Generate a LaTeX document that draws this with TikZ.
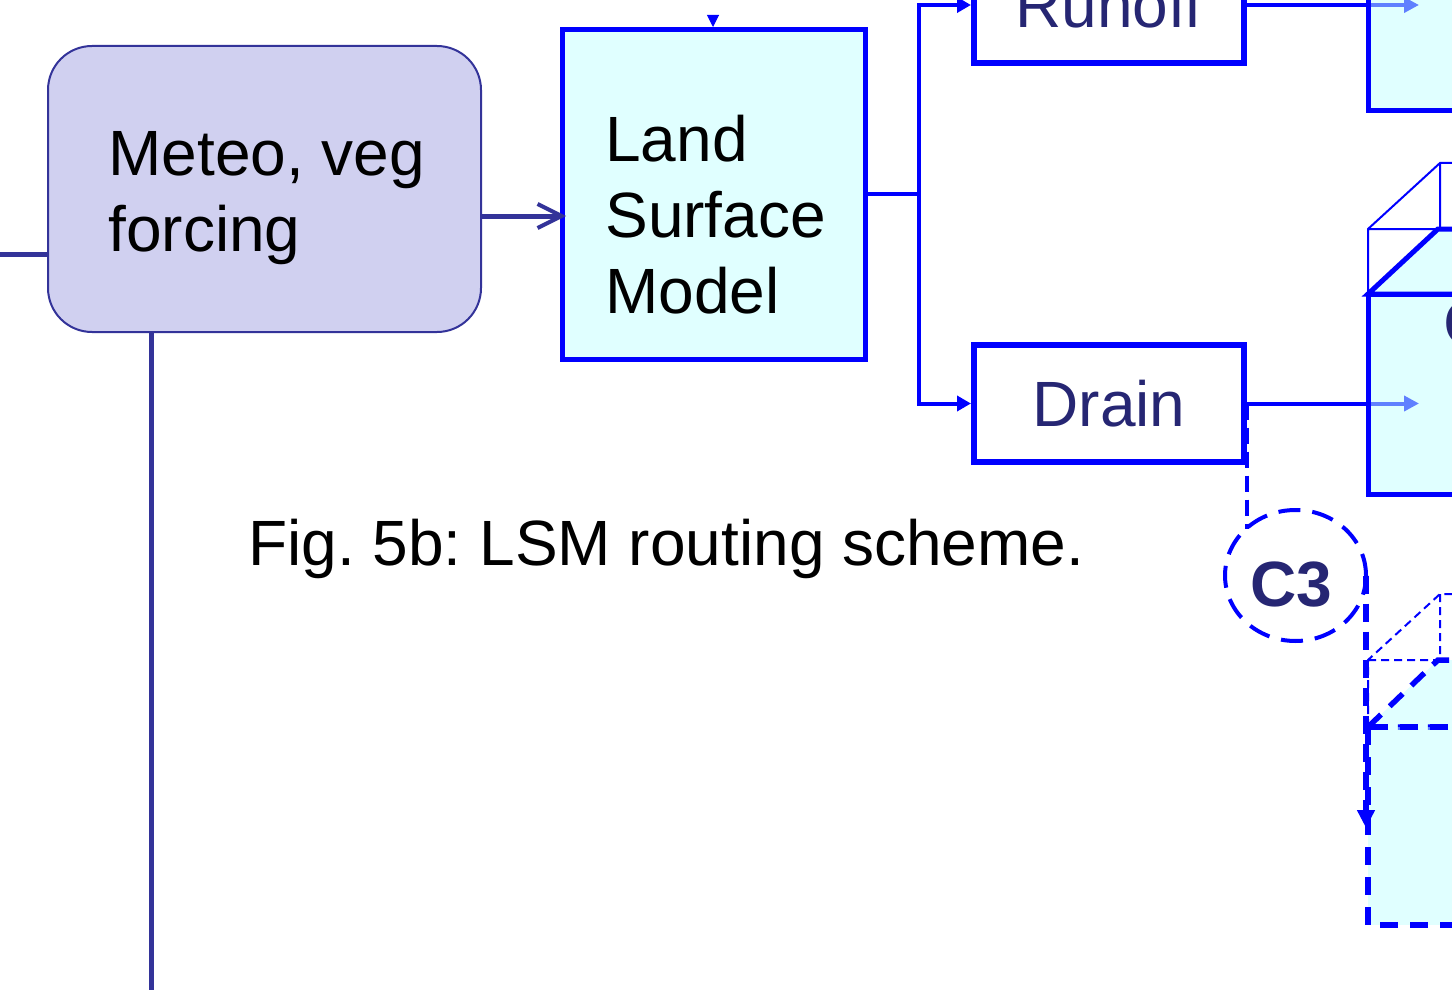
\documentclass[tikz,border=0pt]{standalone}
\usepackage{fontspec}
\setmainfont{Liberation Sans}
\usepackage{xcolor}
\usetikzlibrary{arrows.meta,shapes.geometric}
\definecolor{navytext}{RGB}{38,38,115}
\definecolor{forcingblue}{RGB}{51,51,153}
\definecolor{forcingfill}{RGB}{208,208,240}
\definecolor{pureblue}{RGB}{0,0,255}
\definecolor{storecyan}{RGB}{193,255,255}
\frenchspacing
\tikzset{
  every picture/.style={line join=miter},
  boxtext/.style={font=\fontsize{32}{38}\selectfont, inner sep=0pt, align=left},
  forcingbox/.style={draw=forcingblue, line width=1pt, fill=forcingfill, rounded corners=22pt,
    minimum width=216.5pt, minimum height=143pt},
  forcingedge/.style={draw=forcingblue, line width=2.5pt},
  store/.style={draw=pureblue, fill=storecyan, fill opacity=0.5, line width=2.5pt},
  fluxbox/.style={draw=pureblue, fill=white, line width=3pt, minimum width=135pt,
    minimum height=58.5pt, font=\fontsize{32}{38}\selectfont, text=navytext},
  flow/.style={draw=pureblue, line width=2pt},
  wire/.style={draw=pureblue, line width=1pt},
  couple/.style={draw=pureblue, line width=2pt, dash pattern=on 11pt off 6pt},
}

\begin{document}
\begin{tikzpicture}[x=0.5pt,y=-0.5pt]
\useasboundingbox (0,0) rectangle (1452,990);
\clip (0,0) rectangle (1452,990);

% forcing and land surface model
\node[forcingbox] (meteo) at (264.5,189) {};
\node[boxtext,anchor=north west] (meteotext) at (108,131) {Meteo, veg\\forcing};
\coordinate (feed) at (-10,254);
\coordinate (sink) at (151,1000);
\draw[forcingedge] (feed) -- (feed -| meteo.west);
\draw[forcingedge] (meteo.south -| sink) -- (sink);

\node[store,minimum width=151.5pt,minimum height=165pt] (lsm) at (714,194.5) {};
\node[boxtext,anchor=north west] (lsmtext) at (605,115) {Land\\Surface\\Model};
\draw[forcingedge,-{Straight Barb[length=12pt,width=12pt,line width=2pt]}] ([yshift=-13.5pt]meteo.east) -- ([yshift=-10.75pt,xshift=3pt]lsm.west);
\coordinate (lsmtop) at (713,17);
\draw[wire,line width=0.5pt,-{Triangle[length=6pt,width=6pt]}] (lsmtop) -- (lsmtop |- lsm.north);

% runoff and drain
\node[fluxbox] (runoff) at (1109,5) {Runoff};
\node[fluxbox] (drain) at (1109,403.5) {Drain};
\coordinate (split) at (919,194.5);
\draw[flow] (lsm.east) -- (split);
\draw[flow,-{Triangle[length=7pt,width=7.5pt]}] (split) |- (runoff.west);
\draw[flow,-{Triangle[length=7pt,width=7.5pt]}] (split) |- (drain.west);

\coordinate (fastin) at (1419,5);
\coordinate (slowin) at (1419,403.5);
\draw[flow,-{Triangle[length=7.5pt,width=7.5pt]}] (runoff.east) -- (fastin);
\draw[flow,-{Triangle[length=7.5pt,width=7.5pt]}] (drain.east) -- (slowin);

% coupling C3
\node[couple,ellipse,minimum width=70.5pt,minimum height=65.5pt,inner sep=0pt] (c3) at (1295.5,575.5) {};
\node[font=\bfseries\fontsize{32}{38}\selectfont,text=navytext,inner sep=0pt] (c3text) at (1291.5,585) {C3};
\draw[couple,line width=1.75pt,dash pattern=on 8pt off 4pt] (drain.east) -- (drain.east |- c3.138);

% reservoirs
\draw[store] (1368,-60) rectangle (1600,111);

\draw[wire] (1368,294) -- (1368,229) -- (1440,163) -- (1600,163) (1368,229) -- (1440,229) -- (1440,163);
\draw[store] (1368,294) -- (1438,229) -- (1600,229) -- (1600,294) -- cycle;
\draw[store] (1368,294) rectangle (1600,494);
\node[boxtext,text=navytext,anchor=base west] (slowtext) at (1443,345) {G};

\draw[wire,dash pattern=on 4pt off 2.5pt] (1368,727) -- (1368,660) -- (1440,594) -- (1600,594) (1368,660) -- (1440,660) -- (1440,594);
\draw[store,line width=2.75pt,dash pattern=on 9pt off 6pt] (1368,727) -- (1438,660) -- (1600,660) -- (1600,727) -- cycle;
\draw[store,line width=2.75pt,dash pattern=on 9pt off 6pt] (1368,727) rectangle (1600,925);

\coordinate (deepin) at (1366,828);
\draw[couple,line width=3pt,dash pattern=on 9pt off 5pt,-{Triangle[length=9pt,width=8.5pt,sep=0pt]}] (c3.east -| deepin) -- (deepin);

\node[boxtext,anchor=base west] (caption) at (248,565) {Fig. 5b: LSM routing scheme.};
\end{tikzpicture}
\end{document}
